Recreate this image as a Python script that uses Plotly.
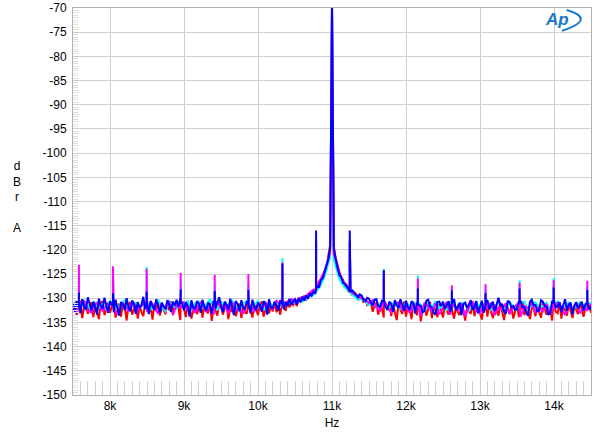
import numpy as np
import plotly.graph_objects as go

# frequency grids of the noise floor (Hz)
fine_hz = list(range(7500, 14501, 25))     # blue and red traces
coarse_hz = list(range(7500, 14501, 50))   # magenta and cyan traces

blue_floor = [
    -131.2, -132.8, -130.4, -131.9, -133.1, -130.2, -131.6, -132.4, -129.8, -131.3,
    -132.6, -130.7, -131.8, -133.4, -130.1, -131.5, -132.2, -129.9, -131.7, -133.0,
    -130.6, -131.4, -132.9, -130.3, -131.8, -133.6, -130.9, -131.2, -132.5, -130.0,
    -131.9, -132.7, -130.5, -131.1, -133.2, -130.8, -132.0, -131.4, -129.7, -132.3,
    -131.0, -133.3, -130.6, -131.7, -132.4, -130.2, -131.5, -133.0, -130.9, -131.8,
    -132.1, -130.4, -131.3, -132.8, -130.7, -131.5, -130.3, -131.8, -130.1, -130.9,
    -132.5, -130.8, -131.6, -133.8, -130.4, -131.9, -132.3, -130.6, -131.1, -133.0,
    -130.3, -131.7, -132.6, -130.9, -131.4, -133.2, -130.5, -132.1, -131.0, -129.8,
    -131.6, -132.9, -130.7, -131.3, -132.4, -130.1, -131.8, -133.5, -130.6, -131.2,
    -132.7, -130.4, -131.9, -132.2, -130.8, -131.5, -133.1, -130.3, -131.7, -132.5,
    -130.9, -131.4, -132.8, -130.6, -131.1, -133.4, -130.2, -131.9, -132.0, -130.7,
    -131.5, -132.6, -130.4, -131.2, -132.3, -130.8, -131.6, -130.1, -131.4, -130.6,
    -130.2, -131.3, -130.0, -130.8, -129.7, -130.5, -129.4, -130.1, -129.0, -129.5,
    -128.6, -128.9, -127.4, -127.8, -126.2, -125.9, -124.6, -123.5, -122.0, -119.5,
    -69.0, -119.8, -122.3, -123.8, -125.2, -125.6, -126.8, -127.0, -127.6, -128.3,
    -128.7, -128.4, -128.9, -129.5, -129.8, -129.2, -129.4, -130.3, -130.6, -129.9,
    -130.1, -130.9, -131.5, -130.3, -130.2, -131.6, -131.8, -130.5, -130.6, -131.9,
    -132.3, -130.7, -131.1, -132.8, -130.4, -131.5, -132.0, -130.2, -131.3, -132.6,
    -130.5, -131.8, -132.4, -130.6, -131.0, -133.1, -130.8, -131.4, -131.6, -132.9,
    -132.6, -130.5, -130.3, -131.7, -131.9, -133.0, -133.4, -130.8, -130.7, -131.6,
    -130.7, -132.2, -131.4, -130.6, -132.8, -131.0, -130.2, -132.5, -131.7, -130.9,
    -133.5, -131.2, -130.9, -132.0, -131.3, -130.4, -132.4, -131.8, -130.6, -133.1,
    -131.8, -130.5, -133.0, -131.6, -130.4, -132.3, -131.5, -130.7, -132.7, -131.2,
    -129.9, -131.6, -131.2, -132.8, -133.2, -130.5, -130.8, -131.9, -131.6, -132.4,
    -132.3, -130.6, -130.5, -131.8, -131.9, -133.0, -133.6, -130.7, -130.3, -131.5,
    -131.4, -132.7, -132.5, -130.4, -130.7, -131.6, -131.8, -133.3, -133.1, -130.5,
    -130.6, -131.9, -131.7, -130.8, -132.9, -131.4, -130.2, -132.6, -131.3, -130.9,
    -133.3, -131.5, -130.8, -132.1, -131.5, -130.7, -132.6, -131.2, -130.9, -132.3,
    -131.7,
]
red_floor = [
    -132.4, -130.9, -133.6, -131.2, -130.5, -134.1, -131.8, -130.7, -133.2, -131.5,
    -130.8, -133.9, -131.4, -132.6, -134.3, -131.0, -130.6, -133.5, -132.1, -130.9,
    -133.0, -131.7, -130.4, -134.0, -132.3, -131.1, -133.8, -130.7, -131.9, -134.6,
    -131.3, -130.8, -133.4, -132.0, -130.9, -134.2, -131.6, -132.8, -133.7, -131.0,
    -130.5, -133.1, -131.9, -134.4, -131.2, -132.7, -130.6, -133.6, -131.8, -132.4,
    -133.3, -131.0, -132.5, -130.6, -133.0, -131.4, -130.9, -132.1, -134.5, -131.7,
    -132.2, -133.9, -130.8, -131.6, -134.2, -132.5, -131.0, -133.3, -132.0, -130.7,
    -134.0, -131.5, -132.6, -133.1, -130.9, -134.7, -131.8, -132.3, -133.6, -131.2,
    -130.6, -133.4, -132.1, -131.3, -134.3, -131.9, -132.8, -130.8, -133.7, -132.4,
    -131.1, -134.1, -131.7, -132.9, -133.2, -130.9, -132.5, -134.0, -131.4, -132.2,
    -133.5, -131.2, -130.7, -133.8, -132.4, -131.0, -133.1, -131.6, -132.7, -130.8,
    -132.9, -131.3, -133.4, -130.6, -131.8, -132.6, -130.5, -131.9, -130.7, -131.4,
    -130.8, -131.6, -129.9, -130.7, -130.2, -129.5, -130.3, -129.8, -129.2, -128.7,
    -128.4, -128.9, -127.6, -126.8, -126.3, -125.7, -124.9, -124.1, -121.2, -119.0,
    -69.5, -119.3, -121.8, -123.2, -124.6, -125.8, -126.2, -127.5, -127.9, -128.6,
    -128.2, -129.5, -128.8, -129.1, -130.4, -129.6, -129.8, -130.9, -130.2, -131.4,
    -131.2, -130.6, -132.8, -131.5, -130.9, -133.4, -131.7, -132.2, -134.0, -131.1,
    -132.6, -130.8, -133.7, -131.4, -132.9, -134.5, -131.0, -132.4, -133.2, -130.7,
    -133.8, -131.6, -132.1, -134.3, -130.9, -132.7, -133.5, -131.3, -134.8, -132.0,
    -131.4, -133.6, -132.2, -130.8, -134.1, -131.9, -132.5, -133.9, -131.2, -132.8,
    -134.0, -131.5, -132.3, -133.4, -130.9, -132.6, -134.2, -131.7, -132.9, -133.5,
    -131.1, -132.4, -134.6, -131.8, -132.7, -133.2, -130.6, -133.7, -132.1, -131.4,
    -133.0, -134.4, -131.6, -132.5, -133.8, -131.0, -132.9, -134.1, -131.3, -132.2,
    -133.6, -130.9, -132.8, -134.5, -131.5, -132.0, -133.3, -131.8, -134.2, -132.6,
    -131.2, -133.9, -132.4, -130.7, -133.5, -131.6, -132.7, -134.3, -131.9, -132.1,
    -133.7, -131.3, -132.9, -134.0, -131.0, -132.5, -133.4, -131.7, -132.3, -134.6,
    -131.5, -132.8, -133.1, -130.8, -134.2, -131.9, -132.4, -133.6, -131.2, -132.7,
    -134.1, -131.4, -132.6, -133.3, -130.9, -132.2, -133.8, -131.6, -132.5, -131.1,
    -133.0,
]
magenta_floor = [
    -131.8, -132.9, -131.0, -130.6, -132.4, -133.0, -131.3, -130.8, -132.7, -131.6,
    -131.1, -132.2, -133.3, -130.9, -131.7, -132.5, -130.5, -133.1, -131.9, -131.3,
    -132.8, -130.7, -131.6, -133.2, -131.0, -132.3, -130.6, -133.5, -131.4, -132.0,
    -130.8, -132.6, -131.5, -133.0, -131.2, -130.9, -132.8, -131.7, -133.4, -130.7,
    -132.1, -131.4, -133.1, -130.8, -132.5, -131.9, -133.2, -130.6, -131.8, -132.7,
    -131.2, -132.4, -130.9, -131.6, -132.2, -130.5, -131.3, -130.7, -131.0, -130.2,
    -130.9, -130.0, -129.8, -129.5, -128.8, -128.2, -127.1, -125.9, -124.3, -121.5,
    -69.5,
    -122.0, -124.9, -126.5, -127.3, -128.5, -129.2, -129.4, -130.0, -130.3,
    -131.0, -130.4, -131.9, -132.6, -130.7, -131.8, -132.9, -131.3, -130.8, -132.4,
    -131.5, -133.0, -131.2, -132.3, -133.6, -130.9, -131.7, -132.8, -131.0, -133.3,
    -132.0, -130.8, -133.4, -131.6, -132.5, -131.1, -133.7, -131.9, -130.7, -132.6,
    -133.1, -131.4, -132.2, -130.9, -133.5, -131.8, -132.4, -131.0, -133.2, -132.0,
    -131.3, -133.8, -131.6, -132.1, -130.8, -133.0, -131.9, -132.7, -131.2, -133.4,
    -132.2, -130.9, -131.7, -133.5, -131.4, -132.3, -131.0, -133.1, -131.8, -132.6, -131.5,
]
cyan_floor = [
    -130.9, -131.7, -132.3, -130.5, -131.4, -132.6, -130.8, -131.9, -131.2, -132.4,
    -130.6, -131.3, -132.1, -131.0, -130.4, -132.5, -131.6, -130.9, -132.0, -131.2,
    -130.7, -132.3, -131.5, -130.3, -131.8, -132.7, -130.6, -131.4, -132.2, -130.8,
    -131.6, -130.5, -132.4, -131.1, -130.7, -132.0, -131.3, -130.2, -131.9, -132.5,
    -130.8, -131.5, -132.2, -130.4, -131.7, -132.6, -131.0, -130.5, -132.1, -131.4,
    -130.6, -131.9, -132.3, -130.9, -131.4, -130.7, -131.6, -130.8, -131.3, -130.6,
    -131.0, -130.5, -130.7, -130.1, -129.6, -129.3, -128.4, -127.2, -125.5, -122.6,
    -69.5,
    -123.5, -126.0, -127.4, -128.2, -129.0, -129.6, -130.3, -130.1, -130.8,
    -131.4, -130.6, -132.0, -131.2, -130.8, -132.3, -131.5, -130.7, -131.9, -132.4,
    -130.9, -131.6, -132.2, -130.5, -131.3, -132.7, -131.0, -131.8, -130.6, -132.1,
    -131.4, -132.5, -130.8, -131.7, -132.3, -130.9, -131.2, -132.6, -131.5, -130.7,
    -132.0, -131.3, -130.6, -132.4, -131.8, -130.9, -131.5, -132.2, -130.8, -131.6,
    -132.3, -131.0, -130.7, -132.5, -131.4, -130.8, -132.1, -131.6, -130.9, -132.4,
    -131.2, -130.6, -132.0, -131.5, -130.9, -132.3, -131.7, -130.8, -131.4, -132.2, -131.0,
]

# points beside the 11 kHz tone for the coarser traces
tone_side_hz = [10975, 11025]
magenta_tone_side = [-120.5, -121.0]
cyan_tone_side = [-121.5, -122.0]

# discrete spurs (Hz), the floor level at their foot and their peak levels (dBr)
spur_hz = [7580, 8040, 8495, 8955, 9415, 9870, 10330, 10785,
           11240, 11700, 12160, 12620, 13075, 13535, 13995, 14450]
spur_base_db = [-131.0, -131.0, -131.0, -131.0, -131.0, -131.0, -130.5, -128.2,
                -128.6, -130.4, -131.0, -131.0, -131.0, -131.0, -131.0, -131.0]
magenta_spur = [-123.1, -123.4, -123.9, -124.8, -125.2, -125.0, -122.6, -118.0,
                -118.0, -124.3, -125.9, -127.3, -127.1, -126.8, -126.3, -126.4]
cyan_spur = [-125.5, -124.0, -123.5, -126.5, -127.0, -126.8, -121.7, -118.2,
             -118.2, -123.9, -125.3, -128.0, -128.2, -126.3, -125.8, -127.5]
blue_spur = [-128.8, -129.0, -128.6, -128.2, -128.5, -128.3, -122.8, -116.0,
             -116.0, -124.2, -128.0, -128.4, -128.9, -128.0, -127.8, -128.3]
red_spur = [-129.0, -128.7, -128.9, -129.3, -129.0, -129.4, -124.5, -118.5,
            -118.5, -126.0, -129.5, -129.8, -129.6, -129.4, -129.9, -130.2]

x_tick_vals = [8000, 9000, 10000, 11000, 12000, 13000, 14000]
x_tick_text = ["8k", "9k", "10k", "11k", "12k", "13k", "14k"]
y_tick_vals = list(range(-150, -69, 5))
y_tick_text = [str(v) for v in y_tick_vals]


def build(grid, floor, spur, side_hz=(), side_db=()):
    xs = list(grid) + list(side_hz)
    ys = list(floor) + list(side_db)
    for f, base, top in zip(spur_hz, spur_base_db, spur):
        xs += [f, f, f]
        ys += [base, top, base]
    order = np.argsort(xs, kind="stable")
    return [xs[i] for i in order], [ys[i] for i in order]


fig = go.Figure()
series = [
    (build(fine_hz, red_floor, red_spur), "#ff0000"),
    (build(coarse_hz, cyan_floor, cyan_spur, tone_side_hz, cyan_tone_side), "#00ffff"),
    (build(coarse_hz, magenta_floor, magenta_spur, tone_side_hz, magenta_tone_side), "#ff00ff"),
    (build(fine_hz, blue_floor, blue_spur), "#0000ff"),
]
for (xs, ys), col in series:
    fig.add_trace(go.Scatter(x=xs, y=ys, mode="lines",
                             line=dict(color=col, width=2.0), showlegend=False))

grid_col = "#cfcfcf"
logo_col = "#1a78c8"
fig.update_layout(
    width=600, height=442,
    margin=dict(l=73, r=9, t=8, b=47),
    paper_bgcolor="white", plot_bgcolor="white",
    font=dict(family="Liberation Sans, Arial, sans-serif", size=12, color="black"),
    xaxis=dict(
        range=[7500, 14500], tickvals=x_tick_vals, ticktext=x_tick_text,
        showgrid=True, gridcolor=grid_col, gridwidth=1,
        showline=True, linecolor="#b0b0b0", mirror=True,
        ticks="inside", ticklen=14, tickcolor=grid_col,
        minor=dict(dtick=100, tick0=7500, ticks="inside", ticklen=14,
                   tickcolor=grid_col, showgrid=False),
        zeroline=False, automargin=False,
        title=dict(text="Hz", standoff=6, font=dict(size=12)),
    ),
    yaxis=dict(
        range=[-150, -70], tickvals=y_tick_vals, ticktext=y_tick_text,
        showgrid=True, gridcolor=grid_col, gridwidth=1,
        showline=True, linecolor="#b0b0b0", mirror=True,
        ticks="inside", ticklen=5, tickcolor=grid_col,
        minor=dict(dtick=0.5, tick0=-150, ticks="inside", ticklen=5,
                   tickcolor="#dddddd", showgrid=False),
        zeroline=False, automargin=False, ticklabelstandoff=3,
    ),
    annotations=[
        dict(text="d<br>B<br>r<br><br>A", xref="paper", yref="paper",
             x=-0.108, y=0.615, xanchor="center", yanchor="top",
             showarrow=False, align="center", font=dict(size=12)),
        dict(text="<b><i>Ap</i></b>", xref="paper", yref="paper",
             x=0.934, y=0.969, xanchor="center", yanchor="middle",
             showarrow=False, font=dict(size=17, color=logo_col,
                                        family="Liberation Sans, Arial")),
    ],
    shapes=[
        dict(type="path", xref="paper", yref="paper",
             path="M 0.953,0.995 Q 1.012,0.972 0.944,0.941",
             line=dict(color=logo_col, width=2)),
    ],
)

# remove the page's default body margin so the 600x442 figure fills the window
fig.write_html("out.html",
               config={"displayModeBar": False},
               post_script="document.body.style.margin='0px';")
